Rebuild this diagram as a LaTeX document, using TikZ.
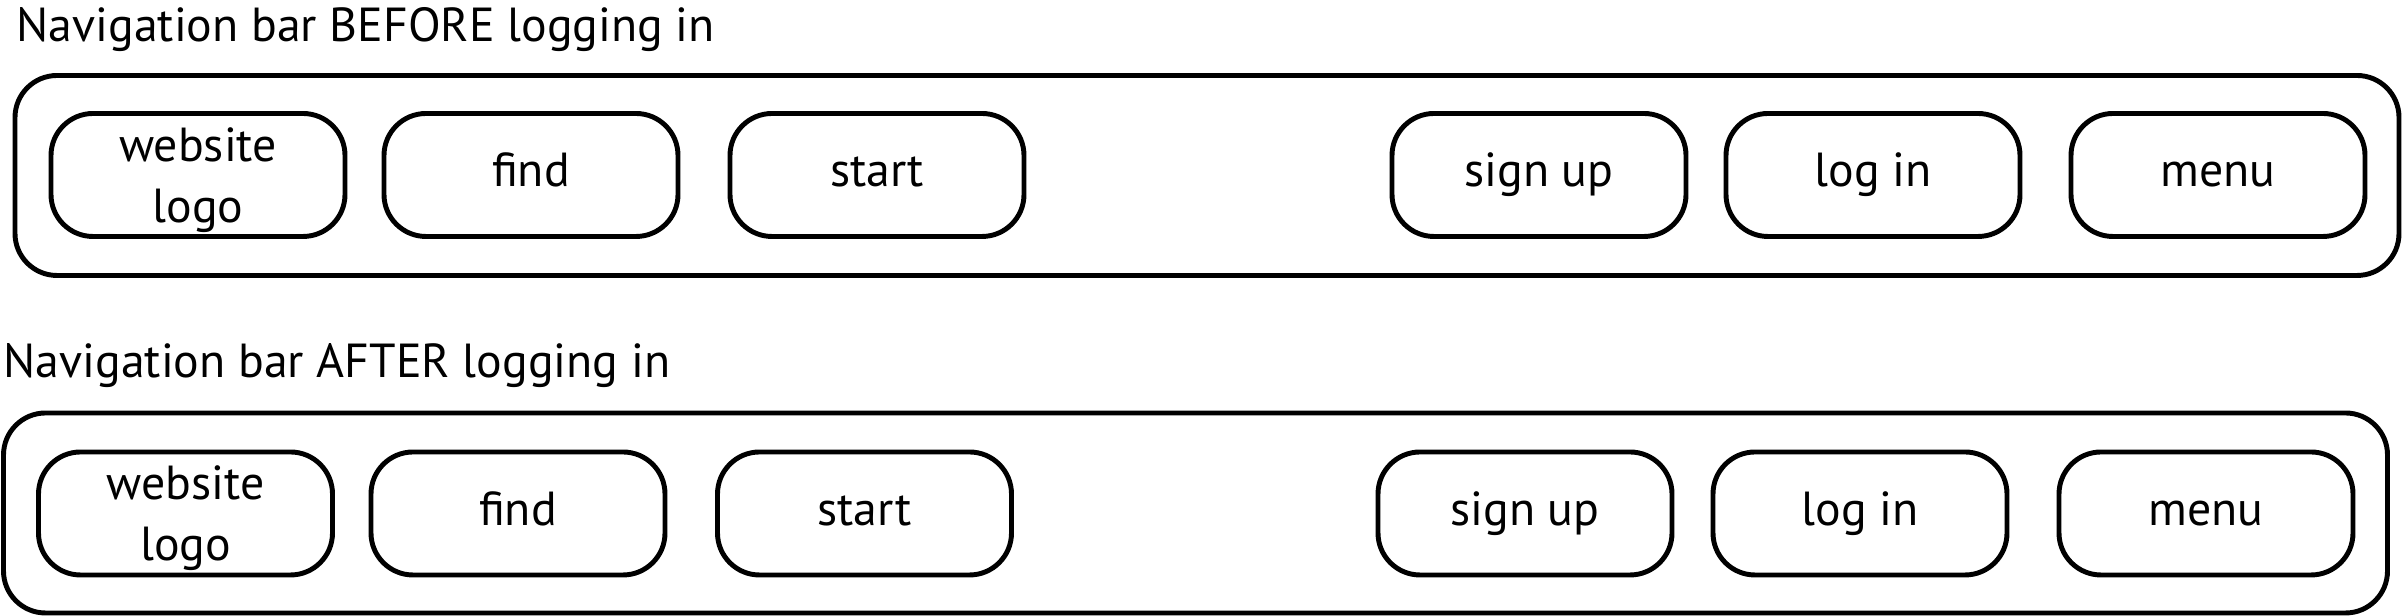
\documentclass[tikz,border=0pt]{standalone}
\usepackage{fontspec}
\setmainfont{PT Sans}
\usepackage{tikz}
\usetikzlibrary{positioning}

\begin{document}
\begin{tikzpicture}[
    x=1cm, y=1cm,
    every node/.style={font=\fontsize{13.6}{17.4}\selectfont},
    barbox/.style={draw=black, line width=1.4pt, rounded corners=0.42cm, minimum width=23.84cm, minimum height=2.0cm},
    navbtn/.style={draw=black, line width=1.4pt, rounded corners=0.42cm, minimum width=2.94cm, minimum height=1.23cm, align=center, inner sep=0pt},
    logobtn/.style={navbtn, text depth=0pt},
    linkbtn/.style={navbtn, text height=0.92em, text depth=0.24em},
    bartitle/.style={anchor=base west, inner sep=0pt},
  ]
    \useasboundingbox (0,0) rectangle (24.04,6.16);
    % before logging in
    \node[bartitle] (titleBefore) at (0.16,5.74) {Navigation bar BEFORE logging in};
    \node[barbox] (barBefore) at (12.07,4.405) {};
    \node[logobtn] (before-logo) at (1.98,4.41) {website\\logo};
    \foreach \x/\nm/\lbl in {5.31/find/find, 8.77/start/start, 15.39/signup/sign up, 18.73/login/log in, 22.18/menu/menu} {
      \node[linkbtn] (before-\nm) at (\x,4.41) {\lbl};
    }
    % after logging in
    \node[bartitle] (titleAfter) at (0.03,2.38) {Navigation bar AFTER logging in};
    \node[barbox] (barAfter) at (11.955,1.03) {};
    \node[logobtn] (after-logo) at (1.855,1.025) {website\\logo};
    \foreach \x/\nm/\lbl in {5.18/find/find, 8.645/start/start, 15.25/signup/sign up, 18.60/login/log in, 22.06/menu/menu} {
      \node[linkbtn] (after-\nm) at (\x,1.025) {\lbl};
    }
  \end{tikzpicture}
\end{document}
